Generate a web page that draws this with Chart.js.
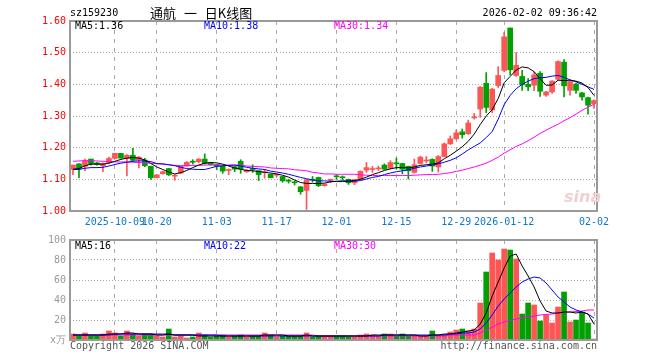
<!DOCTYPE html>
<html>
<head>
<meta charset="utf-8">
<script src="https://cdn.jsdelivr.net/npm/chart.js@4"></script>
<style>
    body { margin: 0; background: #fff; }
    #wrap { position: relative; width: 660px; height: 360px; overflow: hidden; }
    canvas { position: absolute; left: 0; }
    .t { position: absolute; font: 10px 'DejaVu Sans Mono', monospace; line-height: 12px; white-space: pre; }
</style>
</head>
<body>
<div id="wrap">
    <canvas id="priceChart" width="660" height="230" style="top:0"></canvas>
    <canvas id="volChart" width="660" height="130" style="top:230px"></canvas>

    <div class="t" style="left:70px;top:7px">sz159230</div>
    <div class="t" style="left:150px;top:4px;font:13px 'Noto Sans CJK SC';line-height:18px;word-spacing:5px">通航 一 日K线图</div>
    <div class="t" style="right:63px;top:7px">2026-02-02 09:36:42</div>

    <div class="t" style="left:75px;top:20px;color:#000">MA5:1.36</div>
    <div class="t" style="left:204px;top:20px;color:#0000ff">MA10:1.38</div>
    <div class="t" style="left:334px;top:20px;color:#ff00ff">MA30:1.34</div>

    <div class="t" style="left:75px;top:240px;color:#000">MA5:16</div>
    <div class="t" style="left:204px;top:240px;color:#0000ff">MA10:22</div>
    <div class="t" style="left:334px;top:240px;color:#ff00ff">MA30:30</div>

    <div class="t" style="left:564px;top:188px;font:italic bold 16px 'DejaVu Sans';line-height:18px;color:#f0d0d0">sina</div>

    <div class="t" style="left:70px;top:340px;color:#555">Copyright 2026 SINA.COM</div>
    <div class="t" style="right:63px;top:340px;color:#555">http://finance.sina.com.cn</div>
</div>

<script>
// trading days shown on the chart
const dates = [
    '2025-09-22','2025-09-23','2025-09-24','2025-09-25','2025-09-26','2025-09-29','2025-09-30',
    '2025-10-09','2025-10-10','2025-10-13','2025-10-14','2025-10-15','2025-10-16','2025-10-17',
    '2025-10-20','2025-10-21','2025-10-22','2025-10-23','2025-10-24',
    '2025-10-27','2025-10-28','2025-10-29','2025-10-30','2025-10-31',
    '2025-11-03','2025-11-04','2025-11-05','2025-11-06','2025-11-07',
    '2025-11-10','2025-11-11','2025-11-12','2025-11-13','2025-11-14',
    '2025-11-17','2025-11-18','2025-11-19','2025-11-20','2025-11-21',
    '2025-11-24','2025-11-25','2025-11-26','2025-11-27','2025-11-28',
    '2025-12-01','2025-12-02','2025-12-03','2025-12-04','2025-12-05',
    '2025-12-08','2025-12-09','2025-12-10','2025-12-11','2025-12-12',
    '2025-12-15','2025-12-16','2025-12-17','2025-12-18','2025-12-19',
    '2025-12-22','2025-12-23','2025-12-24','2025-12-25','2025-12-26',
    '2025-12-29','2025-12-30','2025-12-31',
    '2026-01-05','2026-01-06','2026-01-07','2026-01-08','2026-01-09',
    '2026-01-12','2026-01-13','2026-01-14','2026-01-15','2026-01-16',
    '2026-01-19','2026-01-20','2026-01-21','2026-01-22','2026-01-23',
    '2026-01-26','2026-01-27','2026-01-28','2026-01-29','2026-01-30',
    '2026-02-02'
];

const tickDates = ['2025-10-09','2025-10-20','2025-11-03','2025-11-17','2025-12-01','2025-12-15','2025-12-29','2026-01-12','2026-02-02'];
const tickLabels = ['2025-10-09','10-20','11-03','11-17','12-01','12-15','12-29','2026-01-12','02-02'];

const opens = [
    1.131,1.149,1.141,1.164,1.152,1.143,1.153,1.166,1.182,1.166,1.176,1.160,1.161,1.141,1.105,1.118,1.134,1.110,1.120,1.142,
    1.156,1.156,1.164,1.152,1.147,1.141,1.128,1.140,1.157,1.124,1.133,1.127,1.121,1.116,1.113,1.109,1.096,1.091,1.076,1.065,
    1.100,1.106,1.080,1.097,1.110,1.107,1.100,1.089,1.099,1.129,1.131,1.133,1.145,1.135,1.151,1.150,1.141,1.122,1.150,1.158,
    1.163,1.139,1.172,1.212,1.228,1.250,1.244,1.294,1.322,1.403,1.319,1.396,1.444,1.578,1.428,1.425,1.400,1.397,1.435,1.366,
    1.376,1.416,1.470,1.381,1.401,1.373,1.358,1.339
];
const highs = [
    1.145,1.149,1.164,1.164,1.154,1.152,1.170,1.182,1.182,1.178,1.198,1.172,1.166,1.142,1.115,1.126,1.135,1.115,1.143,1.156,
    1.162,1.165,1.180,1.154,1.148,1.142,1.133,1.141,1.162,1.131,1.146,1.128,1.131,1.117,1.118,1.110,1.100,1.095,1.078,1.100,
    1.109,1.107,1.086,1.100,1.114,1.111,1.101,1.100,1.127,1.153,1.141,1.142,1.149,1.159,1.167,1.151,1.142,1.164,1.173,1.172,
    1.165,1.175,1.215,1.237,1.256,1.259,1.287,1.308,1.393,1.437,1.387,1.456,1.564,1.578,1.500,1.444,1.418,1.439,1.440,1.378,
    1.412,1.474,1.478,1.409,1.403,1.375,1.360,1.351
];
const lows = [
    1.115,1.105,1.127,1.145,1.145,1.124,1.150,1.166,1.167,1.111,1.158,1.136,1.140,1.100,1.105,1.116,1.112,1.097,1.118,1.142,
    1.148,1.152,1.148,1.145,1.130,1.119,1.115,1.124,1.119,1.122,1.122,1.096,1.104,1.105,1.108,1.091,1.088,1.082,1.053,1.005,
    1.091,1.077,1.078,1.090,1.100,1.098,1.084,1.083,1.098,1.122,1.122,1.128,1.131,1.133,1.132,1.117,1.101,1.120,1.148,1.152,
    1.125,1.123,1.171,1.210,1.226,1.230,1.242,1.290,1.296,1.310,1.310,1.390,1.440,1.430,1.425,1.381,1.380,1.380,1.362,1.362,
    1.371,1.414,1.360,1.366,1.371,1.350,1.306,1.324
];
const closes = [
    1.145,1.134,1.158,1.149,1.147,1.150,1.166,1.182,1.167,1.176,1.160,1.170,1.143,1.105,1.114,1.124,1.114,1.113,1.141,1.154,
    1.154,1.164,1.150,1.147,1.141,1.126,1.130,1.132,1.132,1.129,1.131,1.115,1.123,1.105,1.114,1.095,1.094,1.089,1.061,1.098,
    1.097,1.080,1.085,1.099,1.108,1.105,1.089,1.099,1.125,1.137,1.133,1.135,1.132,1.153,1.149,1.132,1.127,1.146,1.170,1.160,
    1.142,1.172,1.212,1.228,1.247,1.241,1.278,1.297,1.391,1.327,1.385,1.428,1.550,1.446,1.460,1.399,1.392,1.430,1.378,1.376,
    1.410,1.472,1.395,1.409,1.381,1.360,1.334,1.349
];

// moving averages as drawn on the price panel
const ma5 = [
    1.132,1.134,1.143,1.148,1.148,1.148,1.151,1.157,1.163,1.167,1.169,1.167,1.161,1.150,1.139,1.131,1.123,1.117,1.121,1.128,
    1.137,1.145,1.151,1.153,1.152,1.148,1.142,1.136,1.132,1.128,1.127,1.125,1.122,1.120,1.117,1.113,1.107,1.098,1.090,1.087,
    1.087,1.087,1.088,1.092,1.094,1.095,1.095,1.096,1.100,1.107,1.115,1.121,1.128,1.133,1.137,1.137,1.136,1.139,1.144,1.146,
    1.148,1.152,1.165,1.176,1.189,1.203,1.220,1.243,1.273,1.300,1.320,1.355,1.405,1.425,1.445,1.455,1.452,1.440,1.418,1.397,
    1.398,1.413,1.412,1.413,1.410,1.404,1.390,1.365
];
const ma10 = [
    1.131,1.131,1.135,1.137,1.137,1.138,1.142,1.147,1.151,1.154,1.157,1.158,1.158,1.156,1.150,1.149,1.146,1.143,1.138,1.134,
    1.132,1.131,1.131,1.136,1.141,1.143,1.144,1.145,1.142,1.138,1.135,1.133,1.131,1.126,1.123,1.120,1.116,1.111,1.106,1.102,
    1.098,1.095,1.095,1.094,1.093,1.093,1.093,1.094,1.096,1.101,1.106,1.109,1.115,1.120,1.124,1.127,1.130,1.135,1.139,1.142,
    1.145,1.149,1.154,1.160,1.168,1.180,1.193,1.204,1.215,1.232,1.251,1.290,1.336,1.365,1.386,1.400,1.410,1.418,1.421,1.422,
    1.426,1.428,1.422,1.414,1.408,1.400,1.392,1.384
];
const ma30 = [
    1.157,1.158,1.159,1.159,1.158,1.157,1.156,1.155,1.155,1.155,1.154,1.153,1.152,1.151,1.149,1.148,1.146,1.144,1.143,1.143,
    1.144,1.144,1.145,1.145,1.145,1.145,1.145,1.145,1.145,1.142,1.141,1.140,1.139,1.136,1.135,1.134,1.133,1.130,1.129,1.127,
    1.122,1.120,1.117,1.117,1.116,1.116,1.116,1.116,1.114,1.113,1.112,1.112,1.112,1.112,1.112,1.112,1.112,1.113,1.114,1.115,
    1.115,1.116,1.118,1.121,1.125,1.129,1.134,1.139,1.145,1.151,1.160,1.170,1.183,1.193,1.204,1.212,1.222,1.233,1.245,1.255,
    1.265,1.274,1.285,1.295,1.306,1.318,1.328,1.337
];

// volume, in 万
const volumes = [
    6,4,7,4,4,6,9,7,4,9,6,4,6,6,4,3,11,3,4,2,
    3,7,5,3,4,5,3,4,5,3,4,4,7,5,3,4,4,4,4,7,
    3,4,4,4,4,4,3,3,5,6,5,4,6,6,4,6,4,4,4,4,
    9,5,5,8,10,11,9,11,37,68,87,80,91,90,81,26,37,35,19,25,
    17,33,48,18,20,28,17,1
];
const vma5 = [
    5,5,5,5,5,5,6,6,6,7,7,6,6,6,5,5,6,5,5,5,
    5,4,4,4,4,4,4,4,4,4,4,4,5,5,5,5,4,4,4,5,
    4,4,4,4,4,4,4,4,4,4,5,5,5,5,5,5,5,5,4,4,
    5,5,6,6,7,8,9,10,16,27,44,58,72,84,86,74,64,53,39,29,
    27,27,28,28,27,28,26,16
];
const vma10 = [
    5,5,5,5,5,5,5,6,6,6,6,6,6,6,6,6,6,5,5,5,
    5,5,5,5,5,4,4,4,4,4,4,4,4,4,4,4,4,4,4,4,
    4,4,4,4,4,4,4,4,4,4,4,4,5,5,5,5,5,5,5,5,
    5,5,5,6,6,7,7,8,11,17,25,34,41,47,53,58,61,63,62,57,
    50,43,38,33,30,28,26,22
];
const vma30 = [
    5,5,5,5,5,5,5,5,5,5,5,5,5,5,5,5,5,5,5,5,
    5,5,5,5,5,5,5,5,5,5,5,5,5,5,5,5,5,5,5,5,
    5,4,4,4,4,4,4,4,4,4,4,4,4,4,4,4,4,4,4,4,
    4,4,4,5,5,5,5,5,7,10,13,16,18,19.5,21,22,23,24,25,25.5,
    26,27,27.5,28,28.5,29,30,30
];

const RED = '#ff5555';
const GREEN = '#00a000';
const FONT = { family: 'DejaVu Sans Mono', size: 10 };

const candleColors = closes.map((c, i) => c >= opens[i] ? RED : GREEN);

// grey box round each plot area
const framePlugin = {
    id: 'frame',
    afterDraw(chart) {
        const a = chart.chartArea;
        const ctx = chart.ctx;
        ctx.save();
        ctx.strokeStyle = '#999';
        ctx.lineWidth = 2;
        ctx.strokeRect(a.left, a.top, a.right - a.left, a.bottom - a.top);
        ctx.restore();
    }
};

function dateTick(value, index) {
    const k = tickDates.indexOf(dates[index]);
    return k >= 0 ? tickLabels[k] : null;
}

function maLine(data, color, order) {
    return {
        type: 'line',
        data: data,
        borderColor: color,
        borderWidth: 1,
        pointRadius: 0,
        tension: 0,
        order: order
    };
}

new Chart(document.getElementById('priceChart'), {
    type: 'bar',
    data: {
        labels: dates,
        datasets: [
            maLine(ma5, '#000000', 0),
            maLine(ma10, '#0000ff', 1),
            maLine(ma30, '#ff00ff', 2),
            {
                // bodies
                data: opens.map((o, i) => [o, closes[i]]),
                backgroundColor: candleColors,
                barThickness: 5,
                minBarLength: 1,
                grouped: false,
                order: 3
            },
            {
                // wicks
                data: lows.map((l, i) => [l, highs[i]]),
                backgroundColor: candleColors,
                barThickness: 1,
                grouped: false,
                order: 4
            }
        ]
    },
    options: {
        responsive: false,
        animation: false,
        layout: { padding: { top: 21, right: 63, bottom: 0, left: 0 } },
        plugins: { legend: { display: false }, tooltip: { enabled: false } },
        scales: {
            x: {
                offset: true,
                grid: { offset: false, color: '#aaa', drawTicks: false },
                border: { display: false, dash: [4, 5] },
                ticks: { callback: dateTick, autoSkip: false, maxRotation: 0, minRotation: 0, padding: 5, color: '#1177cc', font: FONT },
                afterFit: s => { s.height = 19; }
            },
            y: {
                min: 1.0,
                max: 1.6,
                ticks: { stepSize: 0.1, padding: 4, color: '#ff0000', font: FONT, callback: v => v.toFixed(2) },
                grid: { color: '#aaa', drawTicks: false },
                border: { display: false, dash: [1, 2] },
                afterFit: s => { s.width = 70; }
            }
        }
    },
    plugins: [framePlugin]
});

new Chart(document.getElementById('volChart'), {
    type: 'bar',
    data: {
        labels: dates,
        datasets: [
            maLine(vma5, '#000000', 0),
            maLine(vma10, '#0000ff', 1),
            maLine(vma30, '#ff00ff', 2),
            {
                data: volumes,
                backgroundColor: candleColors,
                barThickness: 5,
                grouped: false,
                order: 3
            }
        ]
    },
    options: {
        responsive: false,
        animation: false,
        layout: { padding: { top: 10, right: 63, bottom: 20, left: 0 } },
        plugins: { legend: { display: false }, tooltip: { enabled: false } },
        scales: {
            x: {
                offset: true,
                grid: { offset: false, color: '#aaa', drawTicks: false },
                border: { display: false, dash: [4, 5] },
                ticks: { callback: dateTick, autoSkip: false, display: false },
                afterFit: s => { s.height = 0; }
            },
            y: {
                min: 0,
                max: 100,
                ticks: { stepSize: 20, padding: 4, color: '#999', font: FONT, callback: v => v === 0 ? 'x万' : v },
                grid: { color: '#aaa', drawTicks: false },
                border: { display: false, dash: [1, 2] },
                afterFit: s => { s.width = 70; }
            }
        }
    },
    plugins: [framePlugin]
});
</script>
</body>
</html>
